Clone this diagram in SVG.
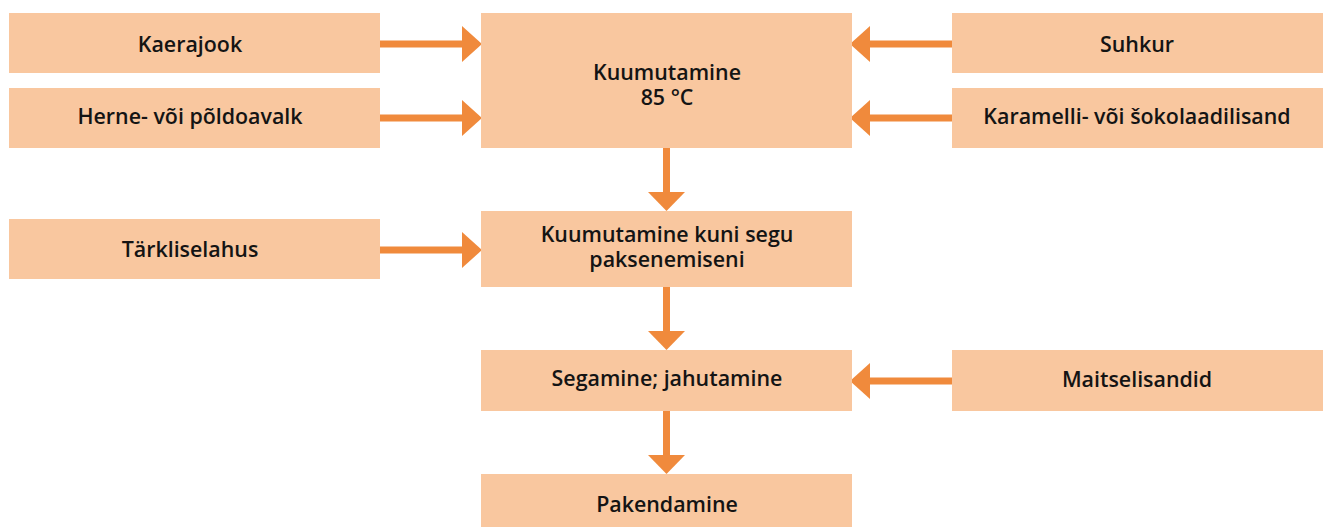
<svg xmlns="http://www.w3.org/2000/svg" width="1326" height="527" viewBox="0 0 1326 527">
  <style>
    .box { fill: #F9C79F; }
    .lbl { font-family: "Open Sans", "Noto Sans", sans-serif; font-weight: 600; font-size: 21.4px; fill: #141414; text-anchor: middle; }
    .shaft { stroke: #F08A3C; stroke-width: 7; fill: none; }
    .head { fill: #F08A3C; }
  </style>
  <defs>
    <!-- arrowheads pointing right, left, down; tip at origin -->
    <polygon id="hR" class="head" points="0,0 -20,-18 -20,18"/>
    <polygon id="hL" class="head" points="0,0 20,-18 20,18"/>
    <polygon id="hD" class="head" points="0,0 -18.5,-19 18.5,-19"/>
  </defs>
  <rect width="1326" height="527" fill="#ffffff"/>

  <g id="connectors">
    <line class="shaft" x1="380" y1="44" x2="463" y2="44"/>
    <use href="#hR" x="482" y="44"/>
    <line class="shaft" x1="380" y1="118" x2="463" y2="118"/>
    <use href="#hR" x="482" y="118"/>
    <line class="shaft" x1="380" y1="250" x2="463" y2="250"/>
    <use href="#hR" x="482" y="250"/>

    <line class="shaft" x1="952" y1="44" x2="869" y2="44"/>
    <use href="#hL" x="850" y="44"/>
    <line class="shaft" x1="952" y1="118" x2="869" y2="118"/>
    <use href="#hL" x="850" y="118"/>
    <line class="shaft" x1="952" y1="381" x2="869" y2="381"/>
    <use href="#hL" x="850" y="381"/>

    <line class="shaft" x1="666.5" y1="148" x2="666.5" y2="193"/>
    <use href="#hD" x="666.5" y="211"/>
    <line class="shaft" x1="666.5" y1="286" x2="666.5" y2="332"/>
    <use href="#hD" x="666.5" y="350"/>
    <line class="shaft" x1="666.5" y1="410" x2="666.5" y2="455"/>
    <use href="#hD" x="666.5" y="474"/>
  </g>

  <g id="kaerajook">
    <rect class="box" x="9" y="13" width="371" height="60"/>
    <text class="lbl" x="190" y="52">Kaerajook</text>
  </g>
  <g id="herne">
    <rect class="box" x="9" y="88" width="371" height="60"/>
    <text class="lbl" x="190" y="124">Herne- või põldoavalk</text>
  </g>
  <g id="tarkliselahus">
    <rect class="box" x="9" y="219" width="371" height="60"/>
    <text class="lbl" x="190" y="257">Tärkliselahus</text>
  </g>

  <g id="kuumutamine">
    <rect class="box" x="481" y="13" width="371" height="135"/>
    <text class="lbl" x="667" y="80">Kuumutamine</text>
    <text class="lbl" x="667" y="105">85 °C</text>
  </g>
  <g id="paksenemine">
    <rect class="box" x="481" y="211" width="371" height="76"/>
    <text class="lbl" x="667" y="242">Kuumutamine kuni segu</text>
    <text class="lbl" x="667" y="267">paksenemiseni</text>
  </g>
  <g id="segamine">
    <rect class="box" x="481" y="350" width="371" height="61"/>
    <text class="lbl" x="667" y="386">Segamine; jahutamine</text>
  </g>
  <g id="pakendamine">
    <rect class="box" x="481" y="474" width="371" height="53"/>
    <text class="lbl" x="667" y="512">Pakendamine</text>
  </g>

  <g id="suhkur">
    <rect class="box" x="952" y="13" width="371" height="60"/>
    <text class="lbl" x="1137" y="52">Suhkur</text>
  </g>
  <g id="karamell">
    <rect class="box" x="952" y="88" width="371" height="60"/>
    <text class="lbl" x="1137" y="124">Karamelli- või šokolaadilisand</text>
  </g>
  <g id="maitselisandid">
    <rect class="box" x="952" y="350" width="371" height="61"/>
    <text class="lbl" x="1137" y="387">Maitselisandid</text>
  </g>
</svg>
